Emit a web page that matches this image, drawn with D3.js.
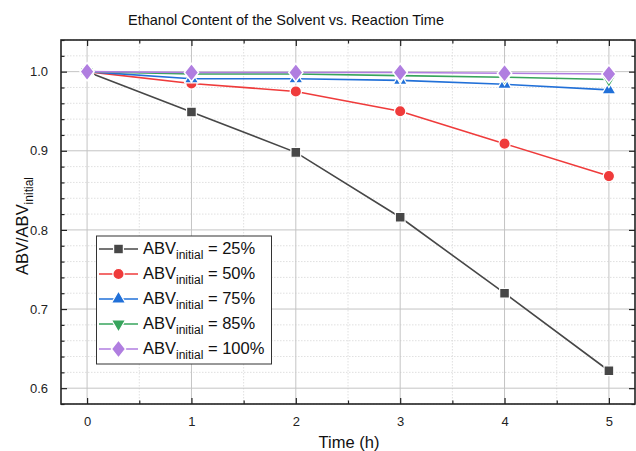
<!DOCTYPE html>
<html>
<head>
<meta charset="utf-8">
<script src="https://cdn.jsdelivr.net/npm/d3@7"></script>
<style>
  html, body { margin: 0; padding: 0; background: #fff; }
  svg { display: block; font-family: "Liberation Sans", Arial, sans-serif; }
  .grid-major { stroke: #c4c4c4; stroke-width: 1; }
  .grid-minor { stroke: #d8d8d8; stroke-width: 0.8; stroke-dasharray: 1.5 1.5; }
  .axis path { display: none; }
  .axis line { stroke: #222; stroke-width: 1.2; }
  .axis text { font-size: 13px; fill: #222; }
</style>
</head>
<body>
<div id="chart"></div>
<script>
// ── Data ───────────────────────────────────────────────────
const times  = [0, 1, 2, 3, 4, 5];
const xTicks = [0, 1, 2, 3, 4, 5];
const yTicks = [0.6, 0.7, 0.8, 0.9, 1.0];

const abv25  = [1.000, 0.949, 0.898, 0.816, 0.720, 0.622];
const abv50  = [1.000, 0.985, 0.975, 0.950, 0.909, 0.868];
const abv75  = [1.000, 0.991, 0.991, 0.989, 0.984, 0.977];
const abv85  = [1.000, 0.997, 0.997, 0.995, 0.993, 0.990];
const abv100 = [1.000, 0.999, 0.999, 0.999, 0.998, 0.997];

const seriesLabels = ["25%", "50%", "75%", "85%", "100%"];

// ── Layout ─────────────────────────────────────────────────
const W = 636, H = 451;
const plot = { left: 61, top: 40, right: 635, bottom: 404 };

const series = [
  { label: seriesLabels[0], values: abv25,  color: "#474747", symbol: "square" },
  { label: seriesLabels[1], values: abv50,  color: "#ef3b3b", symbol: "circle" },
  { label: seriesLabels[2], values: abv75,  color: "#2170d8", symbol: "triangle" },
  { label: seriesLabels[3], values: abv85,  color: "#37a45c", symbol: "triangleDown" },
  { label: seriesLabels[4], values: abv100, color: "#b07ee0", symbol: "diamond" }
];

const svg = d3.select("#chart").append("svg")
  .attr("width", W).attr("height", H);

const x = d3.scaleLinear().domain([-0.25, 5.25]).range([plot.left, plot.right]);
const y = d3.scaleLinear().domain([0.58, 1.04]).range([plot.bottom, plot.top]);

// ── Grid ───────────────────────────────────────────────────
const xMinor = d3.range(-0.0, 5.01, 0.5).filter(v => Math.abs(v % 1) > 0.01);
const yMinor = d3.range(0.58, 1.041, 0.02).filter(v => yTicks.every(t => Math.abs(t - v) > 0.001));

const grid = svg.append("g");
grid.selectAll(".gx-minor").data(xMinor).join("line")
  .attr("class", "grid-minor")
  .attr("x1", d => x(d)).attr("x2", d => x(d))
  .attr("y1", plot.top).attr("y2", plot.bottom);
grid.selectAll(".gy-minor").data(yMinor).join("line")
  .attr("class", "grid-minor")
  .attr("x1", plot.left).attr("x2", plot.right)
  .attr("y1", d => y(d)).attr("y2", d => y(d));
grid.selectAll(".gx").data(xTicks).join("line")
  .attr("class", "grid-major")
  .attr("x1", d => x(d)).attr("x2", d => x(d))
  .attr("y1", plot.top).attr("y2", plot.bottom);
grid.selectAll(".gy").data(yTicks).join("line")
  .attr("class", "grid-major")
  .attr("x1", plot.left).attr("x2", plot.right)
  .attr("y1", d => y(d)).attr("y2", d => y(d));

// ── Axes (ticks pointing inward, mirrored on top/right) ─────
const fmtY = d3.format(".1f");

svg.append("g").attr("class", "axis")
  .attr("transform", `translate(0,${plot.bottom})`)
  .call(d3.axisBottom(x).tickValues(xTicks).tickSize(-6).tickPadding(13).tickFormat(d3.format("d")))
  .selectAll("text").attr("dy", "0.71em");
svg.append("g").attr("class", "axis")
  .attr("transform", `translate(0,${plot.bottom})`)
  .call(d3.axisBottom(x).tickValues(xMinor).tickSize(-3.5).tickFormat(""));

svg.append("g").attr("class", "axis")
  .attr("transform", `translate(0,${plot.top})`)
  .call(d3.axisTop(x).tickValues(xTicks).tickSize(-6).tickFormat(""));
svg.append("g").attr("class", "axis")
  .attr("transform", `translate(0,${plot.top})`)
  .call(d3.axisTop(x).tickValues(xMinor).tickSize(-3.5).tickFormat(""));

svg.append("g").attr("class", "axis")
  .attr("transform", `translate(${plot.left},0)`)
  .call(d3.axisLeft(y).tickValues(yTicks).tickSize(-6).tickPadding(13).tickFormat(fmtY));
svg.append("g").attr("class", "axis")
  .attr("transform", `translate(${plot.left},0)`)
  .call(d3.axisLeft(y).tickValues(yMinor).tickSize(-3.5).tickFormat(""));

svg.append("g").attr("class", "axis")
  .attr("transform", `translate(${plot.right},0)`)
  .call(d3.axisRight(y).tickValues(yTicks).tickSize(-6).tickFormat(""));
svg.append("g").attr("class", "axis")
  .attr("transform", `translate(${plot.right},0)`)
  .call(d3.axisRight(y).tickValues(yMinor).tickSize(-3.5).tickFormat(""));

// frame
svg.append("rect")
  .attr("x", plot.left).attr("y", plot.top)
  .attr("width", plot.right - plot.left).attr("height", plot.bottom - plot.top)
  .attr("fill", "none").attr("stroke", "#222").attr("stroke-width", 1.6);

// ── Symbols ────────────────────────────────────────────────
const symbolTypes = {
  square:       d3.symbol().type(d3.symbolSquare).size(95),
  circle:       d3.symbol().type(d3.symbolCircle).size(100),
  triangle:     d3.symbol().type(d3.symbolTriangle).size(85),
  triangleDown: d3.symbol().type(d3.symbolTriangle).size(85),
  diamond:      d3.symbol().type(d3.symbolDiamond).size(95)
};
function symbolTransform(sym, px, py) {
  if (sym === "triangleDown") return `translate(${px},${py}) rotate(180)`;
  if (sym === "diamond") return `translate(${px},${py}) scale(1.35,1)`;
  return `translate(${px},${py})`;
}

// ── Lines & markers ────────────────────────────────────────
const line = d3.line().x((d, i) => x(times[i])).y(d => y(d));

const marks = svg.append("g");
series.forEach(s => {
  marks.append("path")
    .datum(s.values)
    .attr("d", line)
    .attr("fill", "none")
    .attr("stroke", s.color)
    .attr("stroke-width", 1.6);
});
series.forEach(s => {
  marks.selectAll(null).data(s.values).join("path")
    .attr("d", symbolTypes[s.symbol]())
    .attr("transform", (d, i) => symbolTransform(s.symbol, x(times[i]), y(d)))
    .attr("fill", s.color)
    .attr("stroke", "#fff")
    .attr("stroke-width", 1.2);
});

// ── Legend ─────────────────────────────────────────────────
const legend = svg.append("g");
legend.append("rect")
  .attr("x", 96.5).attr("y", 236)
  .attr("width", 175).attr("height", 128)
  .attr("fill", "#fff").attr("stroke", "#333").attr("stroke-width", 1);

series.forEach((s, i) => {
  const cy = 249 + i * 25;
  const g = legend.append("g");
  g.append("line")
    .attr("x1", 99).attr("x2", 138).attr("y1", cy).attr("y2", cy)
    .attr("stroke", s.color).attr("stroke-width", 1.6);
  g.append("path")
    .attr("d", symbolTypes[s.symbol]())
    .attr("transform", symbolTransform(s.symbol, 118.5, cy))
    .attr("fill", s.color).attr("stroke", "#fff").attr("stroke-width", 1.2);
  const t = g.append("text")
    .attr("x", 143).attr("y", cy + 5)
    .attr("font-size", 16.5).attr("fill", "#111");
  t.append("tspan").text("ABV");
  t.append("tspan").attr("font-size", 12).attr("dy", 5).text("initial");
  t.append("tspan").attr("dy", -5).text(" = " + s.label);
});

// ── Titles ─────────────────────────────────────────────────
svg.append("text")
  .attr("x", 286).attr("y", 25)
  .attr("text-anchor", "middle")
  .attr("font-size", 14.5).attr("fill", "#111")
  .text("Ethanol Content of the Solvent vs. Reaction Time");

svg.append("text")
  .attr("x", 349).attr("y", 448)
  .attr("text-anchor", "middle")
  .attr("font-size", 16.5).attr("fill", "#111")
  .text("Time (h)");

const yl = svg.append("text")
  .attr("transform", "translate(28,226) rotate(-90)")
  .attr("text-anchor", "middle")
  .attr("font-size", 16.5).attr("fill", "#111");
yl.append("tspan").text("ABV/ABV");
yl.append("tspan").attr("font-size", 12).attr("dy", 5).text("initial");
</script>
</body>
</html>
